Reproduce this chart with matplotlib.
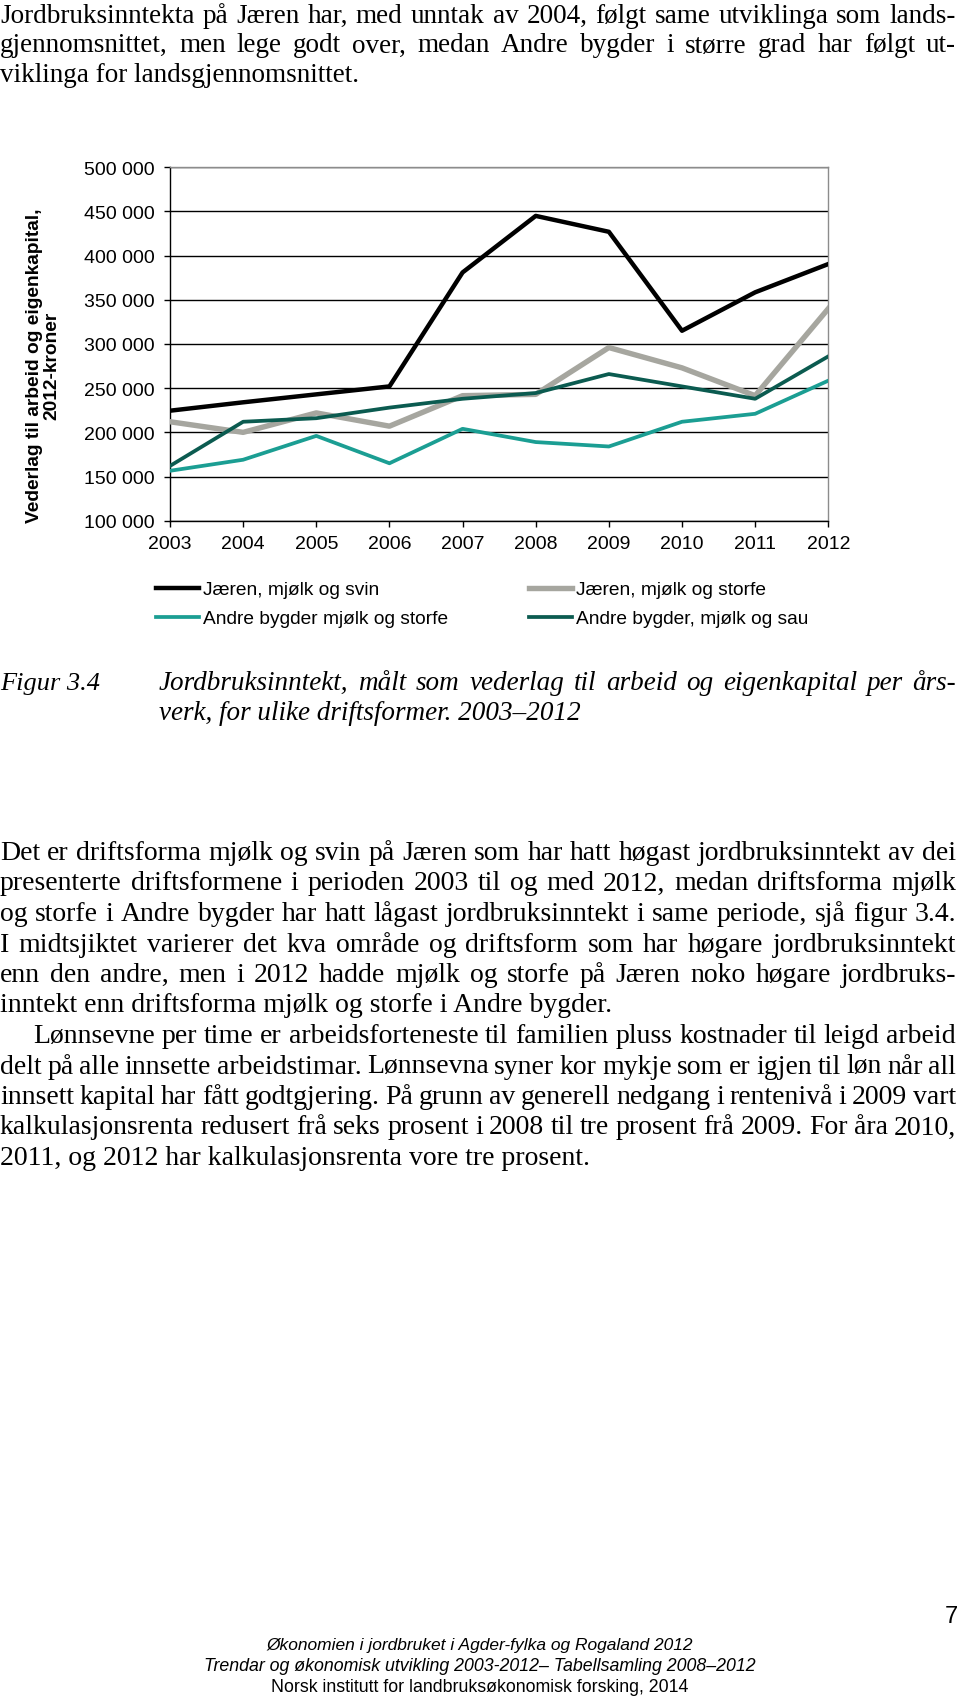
import matplotlib

matplotlib.use('Agg')
import matplotlib.pyplot as plt

# chart data (kroner per årsverk, 2012-kroner)
years = [2003, 2004, 2005, 2006, 2007, 2008, 2009, 2010, 2011, 2012]
jaeren_svin = [224500, 234000, 243000, 252000, 381000, 445000, 427000, 315000, 358500, 390500]
jaeren_storfe = [212000, 200000, 222000, 207000, 241500, 243000, 296000, 273000, 241500, 340000]
andre_storfe = [156500, 169000, 196000, 165000, 204000, 189000, 184000, 212000, 221000, 258500]
andre_sau = [162000, 212000, 216000, 228000, 238000, 244500, 266000, 252000, 238000, 286000]
y_ticks = [100000, 150000, 200000, 250000, 300000, 350000, 400000, 450000, 500000]

top_lines = [
    "Jordbruksinntekta på Jæren har, med unntak av 2004, følgt same utviklinga som lands-",
    "gjennomsnittet, men lege godt over, medan Andre bygder i større grad har følgt ut-",
    "viklinga for landsgjennomsnittet.",
]
caption_lines = [
    "Jordbruksinntekt, målt som vederlag til arbeid og eigenkapital per års-",
    "verk, for ulike driftsformer. 2003–2012",
]
body_lines = [
    "Det er driftsforma mjølk og svin på Jæren som har hatt høgast jordbruksinntekt av dei",
    "presenterte driftsformene i perioden 2003 til og med 2012, medan driftsforma mjølk",
    "og storfe i Andre bygder har hatt lågast jordbruksinntekt i same periode, sjå figur 3.4.",
    "I midtsjiktet varierer det kva område og driftsform som har høgare jordbruksinntekt",
    "enn den andre, men i 2012 hadde mjølk og storfe på Jæren noko høgare jordbruks-",
    "inntekt enn driftsforma mjølk og storfe i Andre bygder.",
    "Lønnsevne per time er arbeidsforteneste til familien pluss kostnader til leigd arbeid",
    "delt på alle innsette arbeidstimar. Lønnsevna syner kor mykje som er igjen til løn når all",
    "innsett kapital har fått godtgjering. På grunn av generell nedgang i rentenivå i 2009 vart",
    "kalkulasjonsrenta redusert frå seks prosent i 2008 til tre prosent frå 2009. For åra 2010,",
    "2011, og 2012 har kalkulasjonsrenta vore tre prosent.",
]
body_justify = [True, True, True, True, True, False, True, True, True, True, False]
body_indent = [0, 0, 0, 0, 0, 0, 33, 0, 0, 0, 0]
footer_lines = [
    "Økonomien i jordbruket i Agder-fylka og Rogaland 2012",
    "Trendar og økonomisk utvikling 2003-2012– Tabellsamling 2008–2012",
    "Norsk institutt for landbruksøkonomisk forsking, 2014",
]

W, H = 960, 1699
fig = plt.figure(figsize=(W / 100, H / 100), dpi=100)
renderer = fig.canvas.get_renderer()


def fx(x):
    return x / W


def fy(y):
    return 1 - y / H


def word_widths(words, size, **kw):
    out = []
    for w in words:
        t = fig.text(0, 0, w, size=size, **kw)
        out.append(t.get_window_extent(renderer).width)
        t.remove()
    return out


def fit_size(lines, flags, indents, x1, size, **kw):
    # largest size where every justified line keeps a sane word gap
    while size > 10:
        ok = True
        for line, just, x0 in zip(lines, flags, indents):
            if not just:
                continue
            words = line.split()
            gap = (x1 - x0 - sum(word_widths(words, size, **kw))) / (len(words) - 1)
            if gap < 0.19 * size * 100 / 72:
                ok = False
                break
        if ok:
            return size
        size -= 0.1
    return size


def put_line(text, y, x0, x1, justify, size, **kw):
    # y is the baseline in pixels from the top
    if not justify:
        fig.text(fx(x0), fy(y), text, va='baseline', size=size, **kw)
        return
    words = text.split()
    widths = word_widths(words, size, **kw)
    gap = (x1 - x0 - sum(widths)) / (len(words) - 1)
    x = x0
    for w, wd in zip(words, widths):
        fig.text(fx(x), fy(y), w, va='baseline', size=size, **kw)
        x += wd + gap


serif = dict(family='Liberation Serif', color='black')

# top paragraph
for i, line in enumerate(top_lines):
    put_line(line, 23 + 29.5 * i, 0, 956, i < 2, 19.5, **serif)

# chart
ax = fig.add_axes([fx(170), fy(521.7), (828.3 - 170) / W, (521.7 - 168.3) / H])
ax.plot(years, jaeren_svin, color='black', lw=3.2, label='Jæren, mjølk og svin', zorder=3)
ax.plot(years, jaeren_storfe, color='#a6a69f', lw=3.9, label='Jæren, mjølk og storfe', zorder=3)
ax.plot(years, andre_storfe, color='#1b9e93', lw=2.7, label='Andre bygder mjølk og storfe', zorder=3)
ax.plot(years, andre_sau, color='#0b5b50', lw=2.7, label='Andre bygder, mjølk og sau', zorder=3)

ax.set_xlim(2003, 2012)
ax.set_ylim(100000, 500000)
ax.set_xticks(years)
ax.set_yticks(y_ticks)
ax.set_yticklabels([f'{v:,}'.replace(',', ' ') for v in y_ticks])
ax.set_axisbelow(True)
ax.grid(axis='y', color='black', lw=1.0)
ax.tick_params(axis='both', direction='out', length=4, width=1, labelsize=14)
ax.tick_params(axis='x', pad=6)
ax.tick_params(axis='y', pad=7)
for lab in ax.get_xticklabels() + ax.get_yticklabels():
    lab.set_family('Liberation Sans')
ax.spines['left'].set_color('black')
ax.spines['bottom'].set_color('black')
ax.spines['top'].set_color('#8c8c8c')
ax.spines['right'].set_color('#8c8c8c')
for s in ax.spines.values():
    s.set_linewidth(1.0)

fig.text(fx(43), fy(366), 'Vederlag til arbeid og eigenkapital,\n2012-kroner', rotation=90,
         ha='center', va='center', multialignment='center', linespacing=1.05,
         family='Liberation Sans', weight='bold', size=13.8)

h, l = ax.get_legend_handles_labels()
order = [0, 2, 1, 3]
fig.legend([h[i] for i in order], [l[i] for i in order], ncol=2, frameon=False,
           loc='upper left', bbox_to_anchor=(fx(156), fy(582)), borderpad=0, borderaxespad=0,
           handlelength=2.25, handletextpad=0.2, columnspacing=4.2, labelspacing=0.6,
           prop={'family': 'Liberation Sans', 'size': 13.8})

# caption
fig.text(fx(0), fy(690), 'Figur 3.4', va='baseline', style='italic', size=19, **serif)
for i, line in enumerate(caption_lines):
    put_line(line, 690 + 30 * i, 159, 956, i == 0, 19.5, style='italic', **serif)

# body text
body_size = fit_size(body_lines, body_justify, body_indent, 956, 20.5, **serif)
for i, line in enumerate(body_lines):
    put_line(line, 860 + 30.5 * i, body_indent[i], 956, body_justify[i], body_size, **serif)

# page number and footer
fig.text(fx(951), fy(1617), '7', ha='center', va='center', family='Liberation Sans', size=17)
footer_sizes = [12.5, 12.8, 12.8]
for i, line in enumerate(footer_lines):
    fig.text(0.5, fy(1650 + 21 * i), line, ha='center', va='baseline',
             family='Liberation Sans', style='italic' if i < 2 else 'normal', size=footer_sizes[i])

fig.savefig('out.png', dpi=100)
